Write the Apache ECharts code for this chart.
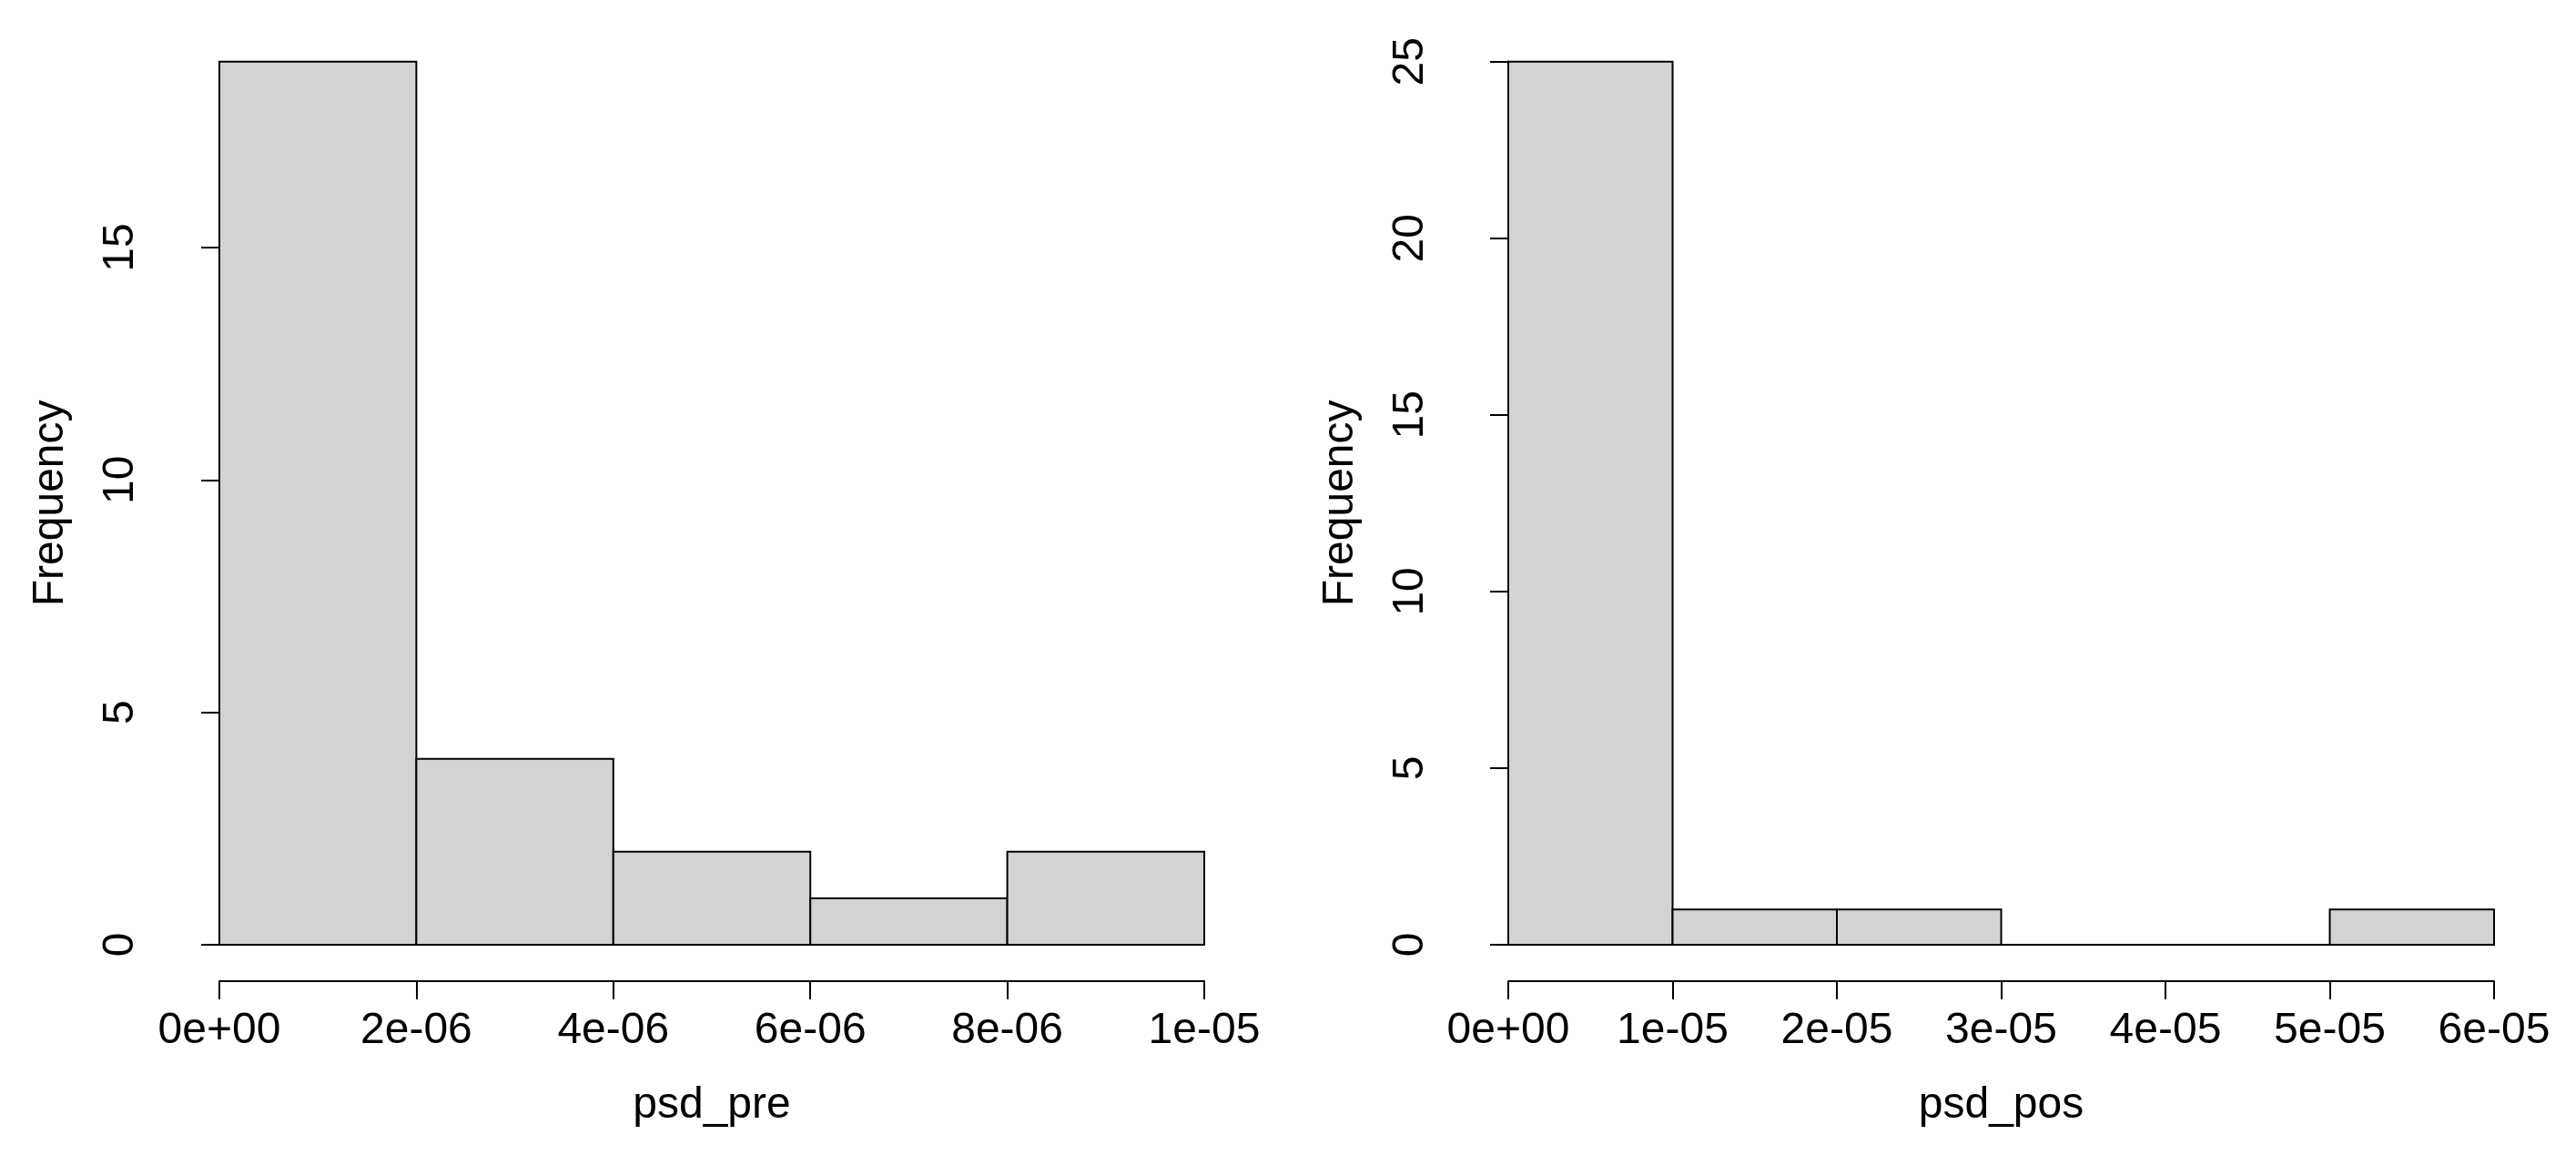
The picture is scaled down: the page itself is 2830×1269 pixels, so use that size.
<!DOCTYPE html>
<html>
<head>
<meta charset="utf-8">
<script src="https://cdn.jsdelivr.net/npm/echarts@6/dist/echarts.min.js"></script>
<style>
html,body{margin:0;padding:0;background:#fff;}
#chart{width:2830px;height:1269px;}
</style>
</head>
<body>
<div id="chart"></div>
<script>
// ---- data ----
const preBinEdges = [0, 2e-6, 4e-6, 6e-6, 8e-6, 1e-5];
const preCounts = [19, 4, 2, 1, 2];
const posBinEdges = [0, 1e-5, 2e-5, 3e-5, 4e-5, 5e-5, 6e-5];
const posCounts = [25, 1, 1, 0, 0, 1];
const preTickLabels = ['0e+00', '2e-06', '4e-06', '6e-06', '8e-06', '1e-05'];
const posTickLabels = ['0e+00', '1e-05', '2e-05', '3e-05', '4e-05', '5e-05', '6e-05'];
const preYTicks = [0, 5, 10, 15];
const posYTicks = [0, 5, 10, 15, 20, 25];
const xNamePre = 'psd_pre';
const xNamePos = 'psd_pos';
const yName = 'Frequency';

function binsToData(edges, counts) {
  return counts.map((c, i) => [edges[i], edges[i + 1], c]);
}

const FONT = 'Liberation Sans, Arial, Helvetica, sans-serif';
const FS = 48;
const lineCol = '#000';

function renderBar(params, api) {
  const p0 = api.coord([api.value(0), api.value(2)]);
  const p1 = api.coord([api.value(1), 0]);
  return {
    type: 'rect',
    shape: { x: p0[0], y: p0[1], width: p1[0] - p0[0], height: p1[1] - p0[1] },
    style: { fill: '#d3d3d3', stroke: '#000', lineWidth: 2 }
  };
}

function xAxisCfg(gridIndex, edges, labels, name) {
  const step = edges[1] - edges[0];
  return {
    type: 'value', gridIndex: gridIndex,
    min: edges[0], max: edges[edges.length - 1], interval: step,
    offset: 40,
    splitLine: { show: false },
    axisLine: { show: true, onZero: false, lineStyle: { color: lineCol, width: 2 } },
    axisTick: { show: true, length: 20, lineStyle: { color: lineCol, width: 2 } },
    axisLabel: {
      show: true, margin: 55, fontFamily: FONT, fontSize: FS, color: '#000',
      verticalAlign: 'middle', showMinLabel: true, showMaxLabel: true,
      formatter: function (v) { return labels[Math.round(v / step)]; }
    },
    name: name, nameLocation: 'middle', nameGap: 137,
    nameTextStyle: { fontFamily: FONT, fontSize: FS, color: '#000', verticalAlign: 'middle' }
  };
}

function yAxisCfg(gridIndex, ticks, offset) {
  return {
    type: 'value', gridIndex: gridIndex,
    min: ticks[0], max: ticks[ticks.length - 1], interval: ticks[1] - ticks[0],
    offset: offset,
    splitLine: { show: false },
    axisLine: { show: true, lineStyle: { color: lineCol, width: 2 } },
    axisTick: { show: true, length: 20, lineStyle: { color: lineCol, width: 2 } },
    axisLabel: {
      show: true, rotate: 90, margin: 65, fontFamily: FONT, fontSize: FS, color: '#000',
      align: 'center', verticalAlign: 'middle'
    }
  };
}

const baseY = 1038;
const topY = 67.7;
const preUnit = (baseY - topY) / 19;

const option = {
  animation: false,
  backgroundColor: '#fff',
  grid: [
    { left: 241, width: 1082, top: topY, height: baseY - topY },
    { left: 241, width: 1082, top: baseY - 15 * preUnit, height: 15 * preUnit },
    { left: 1657, width: 1083, top: topY, height: baseY - topY }
  ],
  xAxis: [
    xAxisCfg(0, preBinEdges, preTickLabels, xNamePre),
    { type: 'value', gridIndex: 1, min: 0, max: 1e-5, show: false },
    xAxisCfg(2, posBinEdges, posTickLabels, xNamePos)
  ],
  yAxis: [
    {
      type: 'value', gridIndex: 0, min: 0, max: 19,
      axisLine: { show: false }, axisTick: { show: false }, axisLabel: { show: false },
      splitLine: { show: false },
      name: yName, nameLocation: 'middle', nameGap: 185, nameRotate: 90,
      nameTextStyle: { fontFamily: FONT, fontSize: FS, color: '#000', verticalAlign: 'middle' }
    },
    yAxisCfg(1, preYTicks, 43),
    Object.assign(yAxisCfg(2, posYTicks, 42), {
      name: yName, nameLocation: 'middle', nameGap: 142, nameRotate: 90,
      nameTextStyle: { fontFamily: FONT, fontSize: FS, color: '#000', verticalAlign: 'middle' }
    })
  ],
  series: [
    {
      type: 'custom', xAxisIndex: 0, yAxisIndex: 0,
      renderItem: renderBar, data: binsToData(preBinEdges, preCounts),
      encode: { x: [0, 1], y: 2 }, clip: false
    },
    {
      type: 'custom', xAxisIndex: 2, yAxisIndex: 2,
      renderItem: renderBar, data: binsToData(posBinEdges, posCounts),
      encode: { x: [0, 1], y: 2 }, clip: false
    }
  ]
};

const chart = echarts.init(document.getElementById('chart'), null, { renderer: 'canvas' });
chart.setOption(option);
</script>
</body>
</html>
